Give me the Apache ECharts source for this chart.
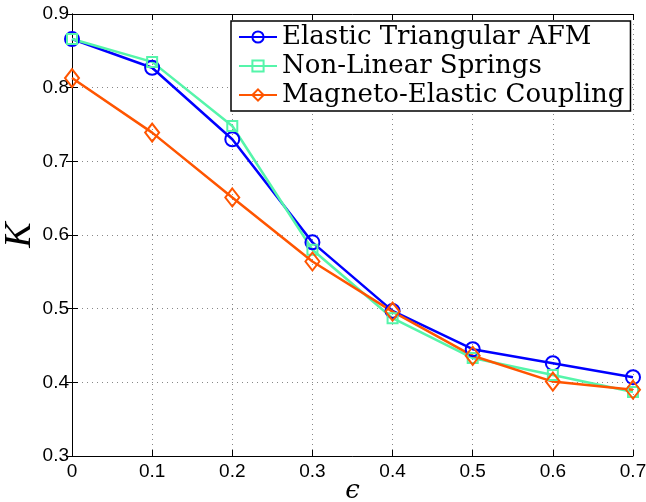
<!DOCTYPE html>
<html>
<head>
<meta charset="utf-8">
<script src="https://cdn.jsdelivr.net/npm/echarts@6/dist/echarts.min.js"></script>
<style>html,body{margin:0;padding:0;background:#fff;}#c{width:646px;height:502px;}</style>
</head>
<body>
<div id="c"></div>
<script>
const xValues = [0, 0.1, 0.2, 0.3, 0.4, 0.5, 0.6, 0.7];
const seriesNames = ['Elastic Triangular AFM', 'Non-Linear Springs', 'Magneto-Elastic Coupling'];
const elasticAFM = [0.866, 0.827, 0.730, 0.590, 0.497, 0.445, 0.426, 0.407];
const nonLinearSprings = [0.866, 0.835, 0.748, 0.580, 0.487, 0.433, 0.410, 0.387];
const magnetoElastic = [0.813, 0.739, 0.651, 0.564, 0.496, 0.436, 0.401, 0.390];
const xTicks = ['0', '0.1', '0.2', '0.3', '0.4', '0.5', '0.6', '0.7'];
const yTicks = ['0.3', '0.4', '0.5', '0.6', '0.7', '0.8', '0.9'];

const colors = ['#0000ff', '#55f5aa', '#ff5500'];
const symbols = ['circle', 'rect', 'diamond'];
const symbolSizes = [14, 10, [14, 18]];
const allData = [elasticAFM, nonLinearSprings, magnetoElastic];

const chart = echarts.init(document.getElementById('c'), null, {renderer: 'canvas'});
const tickFont = {fontFamily: 'Liberation Sans, Arial, sans-serif', fontSize: 19, color: '#000'};
const splitStyle = {show: true, lineStyle: {color: '#888', type: [1, 4], width: 1}};

chart.setOption({
  animation: false,
  backgroundColor: '#fff',
  grid: {left: 72, right: 13, top: 14, bottom: 46, containLabel: false, outerBoundsMode: 'none'},
  xAxis: [{
    type: 'value', min: 0, max: 0.7, interval: 0.1, position: 'bottom',
    name: 'ϵ', nameLocation: 'middle', nameGap: 22, nameMoveOverlap: false,
    nameTextStyle: {fontFamily: 'DejaVu Serif', fontStyle: 'italic', fontSize: 26, color: '#000'},
    axisLine: {show: true, lineStyle: {color: '#000', width: 1}},
    axisTick: {show: true, inside: true, length: 6, lineStyle: {color: '#000'}},
    axisLabel: Object.assign({margin: 6, formatter: (v) => xTicks[Math.round(v * 10)]}, tickFont),
    splitLine: splitStyle
  }, {
    type: 'value', min: 0, max: 0.7, interval: 0.1, position: 'top',
    axisLine: {show: true, lineStyle: {color: '#000', width: 1}},
    axisTick: {show: true, inside: true, length: 6, lineStyle: {color: '#000'}},
    axisLabel: {show: false}, splitLine: {show: false}
  }],
  yAxis: [{
    type: 'value', min: 0.3, max: 0.9, interval: 0.1, position: 'left',
    name: 'K', nameLocation: 'middle', nameGap: 33, nameRotate: 90, nameMoveOverlap: false,
    nameTextStyle: {fontFamily: 'Liberation Serif', fontStyle: 'italic', fontSize: 38, color: '#000'},
    axisLine: {show: true, lineStyle: {color: '#000', width: 1}},
    axisTick: {show: true, inside: true, length: 6, lineStyle: {color: '#000'}},
    axisLabel: Object.assign({margin: 3, formatter: (v) => yTicks[Math.round((v - 0.3) * 10)]}, tickFont),
    splitLine: splitStyle
  }, {
    type: 'value', min: 0.3, max: 0.9, interval: 0.1, position: 'right',
    axisLine: {show: true, lineStyle: {color: '#000', width: 1}},
    axisTick: {show: true, inside: true, length: 6, lineStyle: {color: '#000'}},
    axisLabel: {show: false}, splitLine: {show: false}
  }],
  legend: {
    show: true, orient: 'vertical', left: 231, top: 21,
    backgroundColor: '#fff', borderColor: '#000', borderWidth: 1.5,
    padding: [3, 6, 3, 7], itemGap: 3, itemWidth: 38, itemHeight: 14,
    textStyle: {fontFamily: 'DejaVu Serif', fontSize: 26, color: '#000'},
    data: seriesNames
  },
  series: seriesNames.map((name, i) => ({
    name: name, type: 'line',
    data: xValues.map((x, j) => [x, allData[i][j]]),
    symbol: symbols[i], symbolSize: symbolSizes[i],
    color: colors[i],
    lineStyle: {color: colors[i], width: 2.5},
    itemStyle: {color: 'rgba(0,0,0,0)', borderColor: colors[i], borderWidth: 2},
    clip: false
  }))
});
</script>
</body>
</html>
